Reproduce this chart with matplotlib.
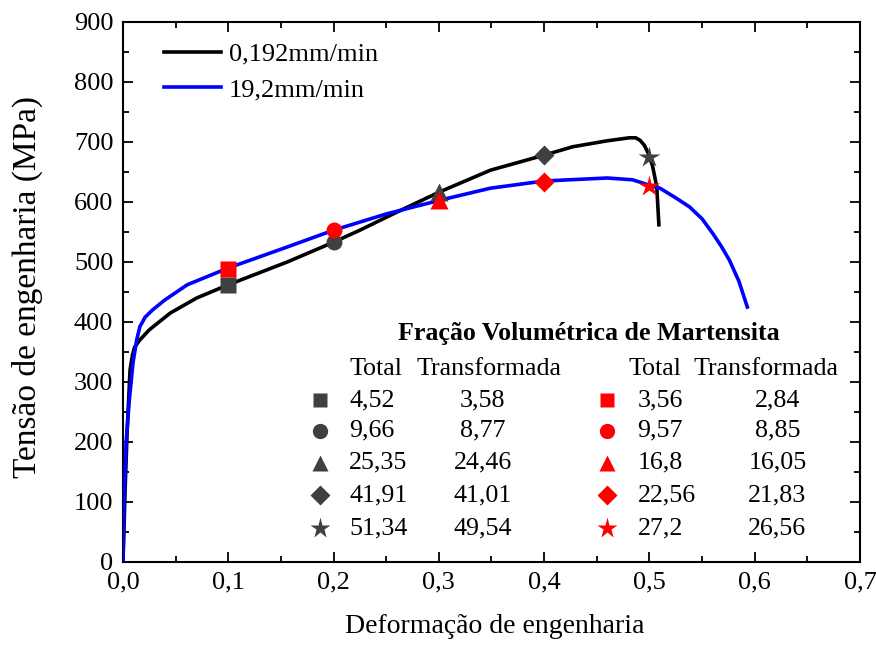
import matplotlib
matplotlib.use("Agg")
import matplotlib.pyplot as plt
from matplotlib.ticker import MultipleLocator, FuncFormatter

plt.rcParams['font.family'] = ['Liberation Serif', 'DejaVu Serif']

# Curve data (strain, stress MPa)
slow_strain = [0, 0.002, 0.004, 0.0067, 0.009, 0.011, 0.016, 0.025, 0.045, 0.07, 0.1,
               0.156, 0.2, 0.225, 0.26, 0.301, 0.349, 0.4, 0.427, 0.46, 0.481, 0.487,
               0.491, 0.495, 0.499, 0.503, 0.507, 0.509]
slow_stress = [0, 120, 220, 320, 345, 358, 370, 387, 415, 440, 462,
               500, 533, 553, 583, 617, 653, 678, 692, 702, 707, 707,
               703, 695, 681, 660, 625, 562]

fast_strain = [0, 0.001, 0.003, 0.006, 0.0095, 0.013, 0.016, 0.021, 0.028, 0.04, 0.061,
               0.1, 0.156, 0.2, 0.25, 0.301, 0.349, 0.4, 0.46, 0.484, 0.5, 0.51,
               0.524, 0.538, 0.55, 0.56, 0.568, 0.576, 0.585, 0.593]
fast_stress = [0, 100, 200, 270, 332, 370, 392, 408, 420, 437, 462,
               490, 525, 553, 580, 603, 623, 635, 640, 637, 628, 623,
               608, 592, 572, 548, 527, 503, 468, 425]

# Marker points
mark_strain = [0.1, 0.2, 0.3, 0.4, 0.5]
slow_mark_stress = [461, 533, 616, 678, 675]
fast_mark_stress = [489, 553, 604, 634, 627]
markers = ['s', 'o', '^', 'D', '*']

# Table values
slow_total = ['4,52', '9,66', '25,35', '41,91', '51,34']
slow_transf = ['3,58', '8,77', '24,46', '41,01', '49,54']
fast_total = ['3,56', '9,57', '16,8', '22,56', '27,2']
fast_transf = ['2,84', '8,85', '16,05', '21,83', '26,56']

legend_labels = ['0,192mm/min', '19,2mm/min']

gray = '#404040'
red = '#ff0000'

fig = plt.figure(figsize=(8.76, 6.45), dpi=100)
ax = fig.add_axes([0.1404, 0.1287, 0.8413, 0.8372])

l1, = ax.plot(slow_strain, slow_stress, color='black', lw=2.6, label=legend_labels[0], zorder=3)
l2, = ax.plot(fast_strain, fast_stress, color='#0000ff', lw=2.6, label=legend_labels[1], zorder=3)

msizes = {'s': 11, 'o': 11.5, '^': 12.5, 'D': 10.5, '*': 16}
for xs, ys_s, ys_f, m in zip(mark_strain, slow_mark_stress, fast_mark_stress, markers):
    ax.plot(xs, ys_s, marker=m, color=gray, ms=msizes[m], mec='none', zorder=4, ls='none')
    ax.plot(xs, ys_f, marker=m, color=red, ms=msizes[m], mec='none', zorder=4, ls='none')

ax.set_xlim(0, 0.7)
ax.set_ylim(0, 900)
ax.xaxis.set_major_locator(MultipleLocator(0.1))
ax.xaxis.set_minor_locator(MultipleLocator(0.05))
ax.yaxis.set_major_locator(MultipleLocator(100))
ax.yaxis.set_minor_locator(MultipleLocator(50))
ax.xaxis.set_major_formatter(FuncFormatter(lambda v, p: f"{v:.1f}".replace('.', ',')))
ax.yaxis.set_major_formatter(FuncFormatter(lambda v, p: f"{int(round(v))}"))
ax.tick_params(which='both', direction='in', top=True, right=True, width=1.3, labelsize=19)
ax.tick_params(which='major', length=7, pad=7)
ax.tick_params(which='minor', length=4)
for s in ax.spines.values():
    s.set_linewidth(1.5)

ax.set_xlabel('Deformação de engenharia', fontsize=20)
ax.xaxis.set_label_coords(0.505, -0.097)
ax.set_ylabel('Tensão de engenharia (MPa)', fontsize=24)
ax.yaxis.set_label_coords(-0.109, 0.51)

ax.legend(handles=[l1, l2], loc='upper left', bbox_to_anchor=(0.042, 0.982), frameon=False,
          fontsize=19, handlelength=2.15, handletextpad=0.3, labelspacing=0.45, borderaxespad=0)

T = ax.transAxes
fs = 18.7
ax.text(0.632, 0.424, 'Fração Volumétrica de Martensita', transform=T, ha='center', va='center',
        fontsize=fs, fontweight='bold')
hy = 0.358
ax.text(0.308, hy, 'Total', transform=T, ha='left', va='center', fontsize=fs)
ax.text(0.497, hy, 'Transformada', transform=T, ha='center', va='center', fontsize=fs)
ax.text(0.686, hy, 'Total', transform=T, ha='left', va='center', fontsize=fs)
ax.text(0.873, hy, 'Transformada', transform=T, ha='center', va='center', fontsize=fs)
rows_y = [0.300, 0.243, 0.184, 0.124, 0.063]
for i, ry in enumerate(rows_y):
    m = markers[i]
    ax.plot([0.267], [ry], marker=m, color=gray, ms=msizes[m] - 0.5, mec='none', transform=T, clip_on=False, ls='none')
    ax.plot([0.657], [ry], marker=m, color=red, ms=msizes[m] - 0.5, mec='none', transform=T, clip_on=False, ls='none')
    ax.text(0.307, ry, slow_total[i], transform=T, ha='left', va='center', fontsize=fs)
    ax.text(0.488, ry, slow_transf[i], transform=T, ha='center', va='center', fontsize=fs)
    ax.text(0.698, ry, fast_total[i], transform=T, ha='left', va='center', fontsize=fs)
    ax.text(0.888, ry, fast_transf[i], transform=T, ha='center', va='center', fontsize=fs)

fig.savefig('out.png', dpi=100)
